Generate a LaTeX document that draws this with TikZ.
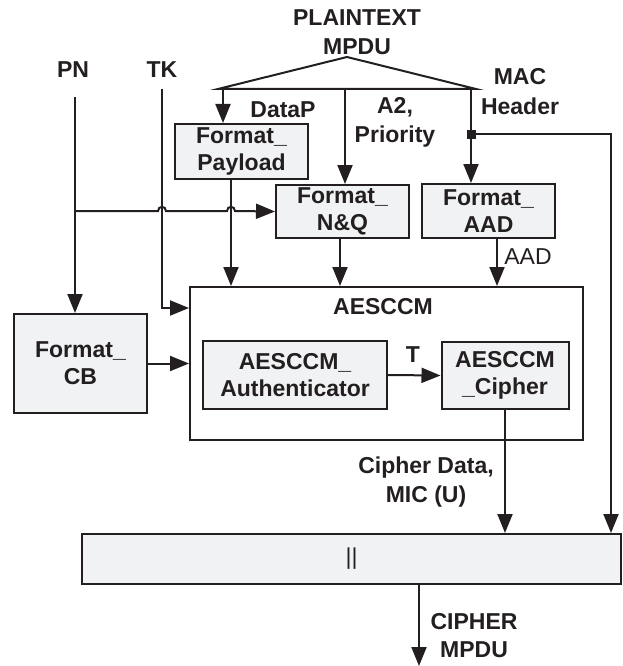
\documentclass[tikz,border=0pt]{standalone}
\usepackage{fontspec}
\setmainfont{Liberation Sans}
\usetikzlibrary{arrows.meta,calc}
\definecolor{ink}{HTML}{231F20}
\definecolor{boxfill}{HTML}{F1F2F4}

\begin{document}
\begin{tikzpicture}[x=1pt,y=-1pt,
  every node/.style={font=\fontsize{23}{27}\selectfont\bfseries, text=ink},
  blk/.style={draw=ink, line width=2pt, fill=boxfill, inner sep=0pt, align=center},
  frame/.style={draw=ink, line width=2pt, inner sep=0pt},
  wire/.style={draw=ink, line width=2pt},
  arr/.style={wire, -{Triangle[length=19pt,width=15pt]}},
  lbl/.style={align=center, inner sep=0pt},
  thin/.style={font=\fontsize{23}{27}\selectfont\mdseries},
]
\useasboundingbox (0,0) rectangle (623,666);

% ---- blocks ----
\node[blk, minimum width=133pt, minimum height=55pt] (pay)  at (241.5,151.5) {Format\_\\Payload};
\node[blk, minimum width=133pt, minimum height=53pt] (nq)   at (342.5,211.5) {Format\_\\N\&Q};
\node[blk, minimum width=133pt, minimum height=54pt] (aad)  at (488.5,211)   {Format\_\\AAD};
\node[frame, minimum width=393pt, minimum height=153pt] (ccm) at (386.5,363.5) {};
\node[blk, minimum width=133pt, minimum height=99pt] (cb)   at (80.5,363.5)  {Format\_\\CB};
\node[blk, minimum width=184pt, minimum height=68pt] (auth) at (295,375)     {AESCCM\_\\Authenticator};
\node[blk, minimum width=127pt, minimum height=67pt] (ciph) at (505,375.5)   {AESCCM\\\_Cipher};
\node[blk, minimum width=539pt, minimum height=50pt, thin] (cat) at (351.5,559) {||};

% ---- labels ----
\node[lbl, font=\fontsize{23}{29}\selectfont\bfseries] (plain) at (357,32) {PLAINTEXT\\MPDU};
\node[lbl] (pn)    at (73,70)   {PN};
\node[lbl] (tk)    at (162,70)  {TK};
\node[lbl] (datap) at (283,110) {DataP};
\node[lbl, font=\fontsize{23}{29}\selectfont\bfseries] (a2) at (395,122) {A2,\\Priority};
\node[lbl, font=\fontsize{23}{30}\selectfont\bfseries] (mac) at (520,92) {MAC\\Header};
\node[lbl, thin] (aadl) at (528,257) {AAD};
\node[lbl] (ccml)  at (383,307) {AESCCM};
\node[lbl] (tl)    at (413,355) {T};
\node[lbl, font=\fontsize{23}{29}\selectfont\bfseries] (cdl) at (426,482) {Cipher Data,\\MIC (U)};
\node[lbl, font=\fontsize{23}{28}\selectfont\bfseries] (outl) at (474,636) {CIPHER\\MPDU};

% ---- splitting of the plaintext MPDU ----
\coordinate (apex) at (347,57);
\coordinate (bl) at (218,89);
\coordinate (br) at (476,89);
\draw[wire, line join=miter] (bl) -- (apex) -- (br) -- cycle;
\coordinate (d1) at (223,89);
\coordinate (d2) at (345,89);
\coordinate (d3) at (471,89);
\draw[arr] (d1) -- (d1 |- pay.north);
\draw[arr] (d2) -- (d2 |- nq.north);
\draw[arr] (d3) -- (d3 |- aad.north);

% header tap to the concatenation block
\node[fill=ink, minimum size=9pt, inner sep=0pt] (jn) at (471,134) {};
\coordinate (rc) at (611,134);
\draw[arr] (jn.center) -- (rc) -- (rc |- cat.north);

% ---- PN and TK ----
\coordinate (pntop) at (75,97);
\coordinate (tktop) at (162,89);
\coordinate (pnb) at (75,211);
\draw[arr] (pntop) -- (pntop |- cb.north);
\draw[arr] (tktop) |- ($(ccm.north west)+(0,22)$);
\draw[arr] (pnb) -- (158,211)
  .. controls (158,205.5) and (166,205.5) .. (166,211) -- (227,211)
  .. controls (227,205.5) and (235,205.5) .. (235,211) -- (nq.west);

% ---- into AESCCM ----
\coordinate (p1) at (231,179);
\draw[arr] (p1) -- (p1 |- ccm.north);
\coordinate (p2) at (340,238);
\draw[arr] (p2) -- (p2 |- ccm.north);
\coordinate (p3) at (497,238);
\draw[arr] (p3) -- (p3 |- ccm.north);
\draw[arr] (cb.east) -- (cb.east -| ccm.west);
\draw[arr] (auth.east) -- (ciph.west);

% ---- output ----
\draw[arr] (ciph.south) -- (ciph.south |- cat.north);
\coordinate (o1) at (419,584);
\coordinate (o2) at (419,666);
\draw[arr] (o1) -- (o2);
\end{tikzpicture}
\end{document}
